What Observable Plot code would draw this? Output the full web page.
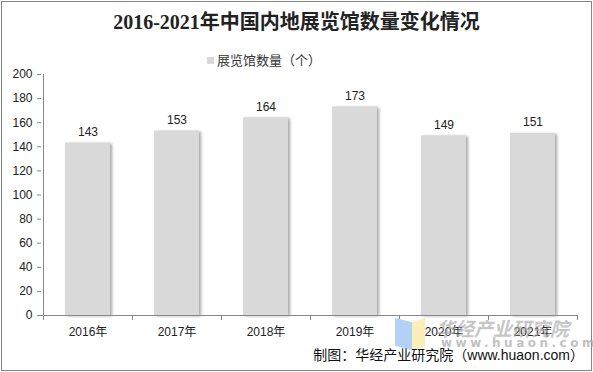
<!DOCTYPE html>
<html><head><meta charset="utf-8">
<script src="https://cdn.jsdelivr.net/npm/d3@7"></script>
<script src="https://cdn.jsdelivr.net/npm/@observablehq/plot@0.6"></script>
<style>
body{margin:0;background:#fff;}
#wrap{position:relative;width:593px;height:372px;overflow:hidden;font-family:"Liberation Sans","Noto Sans CJK SC",sans-serif;}
#frame{position:absolute;left:1px;top:1px;width:589px;height:368px;border:1px solid #858585;}
#title{position:absolute;left:0;width:593px;top:6px;text-align:center;font-family:"Liberation Serif","Noto Sans CJK SC",serif;font-weight:bold;font-size:20px;color:#222;}
#legend{position:absolute;left:207px;top:50px;font-size:13px;color:#333;white-space:nowrap;}
#legend span.sw{display:inline-block;width:7px;height:7px;background:#d9d9d9;margin-right:3px;vertical-align:1px;}
#chart{position:absolute;left:0;top:0;}
#caption{position:absolute;right:9px;top:344px;font-size:14px;color:#111;white-space:nowrap;}
#wm{position:absolute;left:394px;top:314px;width:190px;height:40px;pointer-events:none;}
#wm .b{position:absolute;left:1px;top:6px;width:17px;height:28px;background:#b3d1f7;transform:skewY(15deg);}
#wm .y{position:absolute;left:18px;top:6px;width:13px;height:28px;background:#fbeeb8;transform:skewY(-20deg);}
#wm .t{position:absolute;left:42px;top:0px;font-size:19px;font-weight:bold;font-style:italic;color:rgba(165,165,165,0.65);font-family:"Noto Sans CJK SC",sans-serif;white-space:nowrap;}
#wm .u{position:absolute;left:47px;top:22px;font-size:12px;font-weight:bold;color:rgba(165,165,165,0.7);letter-spacing:3.5px;font-family:"DejaVu Sans",sans-serif;white-space:nowrap;}
</style></head>
<body>
<div id="wrap">
<div id="frame"></div>
<div id="chart"></div>
<div id="title">2016-2021年中国内地展览馆数量变化情况</div>
<div id="legend"><span class="sw"></span>展览馆数量（个）</div>
<div id="wm"><div class="b"></div><div class="y"></div><div class="t">华经产业研究院</div><div class="u">www.huaon.com</div></div>
<div id="caption">制图：华经产业研究院（www.huaon.com）</div>
</div>
<script>
const years = ["2016年","2017年","2018年","2019年","2020年","2021年"];
const counts = [143,153,164,173,149,151];
const yTicks = [0,20,40,60,80,100,120,140,160,180,200];

const data = years.map((y,i)=>({year:y, value:counts[i]}));

const boundaryTicks = (index, scales) => {
  const x = scales.x, y = scales.y;
  const step = x.step(), bw = x.bandwidth();
  const g = d3.create("svg:g");
  const xs = years.map(c => x(c) - (step - bw)/2);
  xs.push(x(years[years.length-1]) + bw + (step - bw)/2);
  const y0 = y(0);
  g.selectAll("line").data(xs).join("line")
    .attr("x1", d=>d).attr("x2", d=>d)
    .attr("y1", y0).attr("y2", y0+5)
    .attr("stroke", "#888").attr("shape-rendering","crispEdges");
  g.append("line").attr("x1", xs[0]).attr("x2", xs[0])
    .attr("y1", y(200)).attr("y2", y0)
    .attr("stroke", "#888").attr("shape-rendering","crispEdges");
  return g.node();
};

const chart = Plot.plot({
  width: 593,
  height: 372,
  marginTop: 74,
  marginBottom: 57,
  marginLeft: 41,
  marginRight: 15,
  style: {fontFamily: '"Liberation Sans","Noto Sans CJK SC",sans-serif', fontSize: "12px", color: "#222", background: "transparent"},
  x: {domain: years, paddingInner: 0.5, paddingOuter: 0.25, label: null},
  y: {domain: [0,200], ticks: yTicks, label: null},
  marks: [
    Plot.barY(data, {x: "year", y: "value", fill: "#d9d9d9"}),
    Plot.text(data, {x: "year", y: "value", text: d => String(d.value), dy: -11, fontSize: 12, fill: "#222"}),
    Plot.axisY({ticks: yTicks, tickSize: 4, tickPadding: 5, stroke: "#888", fontSize: 12, fill: "#222"}),
    Plot.axisX({tickSize: 0, tickPadding: 12, fontSize: 12, fill: "#222"}),
    Plot.ruleY([0], {stroke: "#888"}),
    boundaryTicks
  ]
});
d3.select(chart).select('g[aria-label="bar"]').style("filter","drop-shadow(2px 1px 1.5px rgba(0,0,0,0.35))");
document.getElementById("chart").appendChild(chart);
</script>
</body></html>
